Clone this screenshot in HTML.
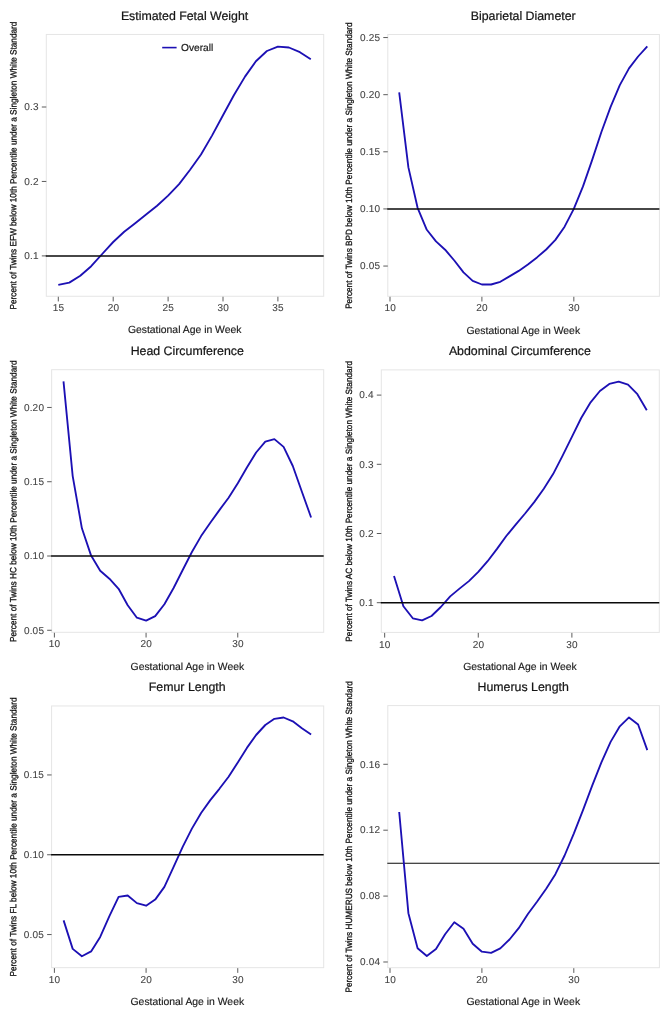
<!DOCTYPE html>
<html><head><meta charset="utf-8"><title>Twin growth percentiles</title>
<style>html,body{margin:0;padding:0;background:#fff}svg{display:block;will-change:transform}text{font-family:'Liberation Sans', sans-serif;text-rendering:geometricPrecision}.t{font-size:12.35px;fill:#151515;stroke:#151515;stroke-width:.22}.a{font-size:10px;letter-spacing:.2px;fill:#444;stroke:#444;stroke-width:.1}.x{font-size:10.4px;fill:#1a1a1a;stroke:#1a1a1a;stroke-width:.15}.y{font-size:9px;fill:#111;stroke:#111;stroke-width:.3}.l{font-size:10.2px;fill:#1a1a1a;stroke:#1a1a1a;stroke-width:.2}.f{fill:none;stroke:#e5e5e5;stroke-width:1}.k{stroke:#5c5c5c;stroke-width:1}.c{fill:none;stroke:#1c10b4;stroke-width:1.85;stroke-linejoin:round;stroke-linecap:butt}.h{stroke:#0a0a0a;stroke-width:1.5}</style></head><body>
<svg width="669" height="1018" viewBox="0 0 669 1018">
<rect width="669" height="1018" fill="#fff"/>
<g>
<rect class="f" x="46.30" y="34.45" width="277.40" height="261.80"/>
<line class="k" x1="58.30" y1="296.75" x2="58.30" y2="301.45"/>
<text class="a" x="58.50" y="311.35" text-anchor="middle">15</text>
<line class="k" x1="113.20" y1="296.75" x2="113.20" y2="301.45"/>
<text class="a" x="113.40" y="311.35" text-anchor="middle">20</text>
<line class="k" x1="168.10" y1="296.75" x2="168.10" y2="301.45"/>
<text class="a" x="168.30" y="311.35" text-anchor="middle">25</text>
<line class="k" x1="223.00" y1="296.75" x2="223.00" y2="301.45"/>
<text class="a" x="223.20" y="311.35" text-anchor="middle">30</text>
<line class="k" x1="277.90" y1="296.75" x2="277.90" y2="301.45"/>
<text class="a" x="278.10" y="311.35" text-anchor="middle">35</text>
<line class="k" x1="41.80" y1="255.90" x2="46.30" y2="255.90"/>
<text class="a" x="38.80" y="259.20" text-anchor="end">0.1</text>
<line class="k" x1="41.80" y1="181.45" x2="46.30" y2="181.45"/>
<text class="a" x="38.80" y="184.75" text-anchor="end">0.2</text>
<line class="k" x1="41.80" y1="107.00" x2="46.30" y2="107.00"/>
<text class="a" x="38.80" y="110.30" text-anchor="end">0.3</text>
<polyline class="c" points="58.3,284.9 69.3,282.6 80.3,275.7 91.2,266.2 102.2,254.0 113.2,242.0 124.2,231.8 135.2,223.2 146.1,214.6 157.1,205.7 168.1,195.6 179.1,184.1 190.1,169.8 201.0,154.5 212.0,135.6 223.0,115.2 234.0,95.0 245.0,76.6 255.9,61.2 266.9,51.0 277.9,46.6 288.9,47.5 299.9,52.2 310.8,59.3"/>
<line class="h" x1="45.80" y1="255.90" x2="323.70" y2="255.90"/>
<line x1="162.2" y1="47.6" x2="176.6" y2="47.6" stroke="#1c10b4" stroke-width="1.6"/>
<text class="l" x="181.0" y="51.1">Overall</text>
<text class="t" x="184.60" y="19.70" text-anchor="middle">Estimated Fetal Weight</text>
<text class="x" x="184.70" y="333.45" text-anchor="middle">Gestational Age in Week</text>
<text class="y" transform="translate(16.40 165.55) rotate(-89.95) scale(.914 1)" text-anchor="middle">Percent of Twins EFW below 10th Percentile under a Singleton White Standard</text>
</g>
<g>
<rect class="f" x="387.80" y="34.50" width="271.60" height="261.80"/>
<line class="k" x1="390.00" y1="296.80" x2="390.00" y2="301.50"/>
<text class="a" x="390.20" y="311.40" text-anchor="middle">10</text>
<line class="k" x1="481.90" y1="296.80" x2="481.90" y2="301.50"/>
<text class="a" x="482.10" y="311.40" text-anchor="middle">20</text>
<line class="k" x1="573.83" y1="296.80" x2="573.83" y2="301.50"/>
<text class="a" x="574.03" y="311.40" text-anchor="middle">30</text>
<line class="k" x1="383.30" y1="266.06" x2="387.80" y2="266.06"/>
<text class="a" x="380.30" y="269.36" text-anchor="end">0.05</text>
<line class="k" x1="383.30" y1="208.93" x2="387.80" y2="208.93"/>
<text class="a" x="380.30" y="212.23" text-anchor="end">0.10</text>
<line class="k" x1="383.30" y1="151.81" x2="387.80" y2="151.81"/>
<text class="a" x="380.30" y="155.11" text-anchor="end">0.15</text>
<line class="k" x1="383.30" y1="94.68" x2="387.80" y2="94.68"/>
<text class="a" x="380.30" y="97.98" text-anchor="end">0.20</text>
<line class="k" x1="383.30" y1="37.56" x2="387.80" y2="37.56"/>
<text class="a" x="380.30" y="40.86" text-anchor="end">0.25</text>
<polyline class="c" points="399.2,92.3 408.4,167.4 417.6,207.8 426.8,229.8 436.0,241.4 445.1,249.7 454.3,260.5 463.5,272.4 472.7,280.9 481.9,284.5 491.1,284.5 500.3,281.8 509.5,276.4 518.7,270.9 527.9,264.5 537.0,257.4 546.2,249.5 555.4,239.9 564.6,226.7 573.8,208.9 583.0,186.4 592.2,159.9 601.4,132.0 610.6,106.9 619.8,85.1 629.0,68.4 638.1,56.5 647.3,46.4"/>
<line class="h" x1="387.30" y1="208.93" x2="659.40" y2="208.93"/>
<text class="t" x="523.20" y="19.75" text-anchor="middle">Biparietal Diameter</text>
<text class="x" x="523.30" y="333.50" text-anchor="middle">Gestational Age in Week</text>
<text class="y" transform="translate(352.00 165.60) rotate(-89.95) scale(.914 1)" text-anchor="middle">Percent of Twins BPD below 10th Percentile under a Singleton White Standard</text>
</g>
<g>
<rect class="f" x="51.65" y="369.70" width="272.05" height="262.60"/>
<line class="k" x1="54.38" y1="632.80" x2="54.38" y2="637.50"/>
<text class="a" x="54.58" y="647.40" text-anchor="middle">10</text>
<line class="k" x1="146.07" y1="632.80" x2="146.07" y2="637.50"/>
<text class="a" x="146.27" y="647.40" text-anchor="middle">20</text>
<line class="k" x1="237.76" y1="632.80" x2="237.76" y2="637.50"/>
<text class="a" x="237.96" y="647.40" text-anchor="middle">30</text>
<line class="k" x1="47.15" y1="630.27" x2="51.65" y2="630.27"/>
<text class="a" x="44.15" y="633.57" text-anchor="end">0.05</text>
<line class="k" x1="47.15" y1="556.00" x2="51.65" y2="556.00"/>
<text class="a" x="44.15" y="559.30" text-anchor="end">0.10</text>
<line class="k" x1="47.15" y1="481.73" x2="51.65" y2="481.73"/>
<text class="a" x="44.15" y="485.03" text-anchor="end">0.15</text>
<line class="k" x1="47.15" y1="407.46" x2="51.65" y2="407.46"/>
<text class="a" x="44.15" y="410.76" text-anchor="end">0.20</text>
<polyline class="c" points="63.5,381.4 72.7,476.1 81.9,528.3 91.1,555.6 100.2,570.7 109.4,578.7 118.6,588.8 127.7,605.2 136.9,617.7 146.1,620.6 155.2,616.1 164.4,604.2 173.6,588.0 182.7,570.0 191.9,552.0 201.1,536.1 210.3,522.7 219.4,510.1 228.6,497.8 237.8,483.2 246.9,467.5 256.1,452.5 265.3,441.7 274.4,439.1 283.6,446.9 292.8,466.0 301.9,491.7 311.1,517.5"/>
<line class="h" x1="51.15" y1="556.00" x2="323.70" y2="556.00"/>
<text class="t" x="187.27" y="354.95" text-anchor="middle">Head Circumference</text>
<text class="x" x="187.37" y="669.50" text-anchor="middle">Gestational Age in Week</text>
<text class="y" transform="translate(16.40 501.20) rotate(-89.95) scale(.914 1)" text-anchor="middle">Percent of Twins HC below 10th Percentile under a Singleton White Standard</text>
</g>
<g>
<rect class="f" x="381.30" y="369.90" width="278.00" height="262.50"/>
<line class="k" x1="384.67" y1="632.90" x2="384.67" y2="637.60"/>
<text class="a" x="384.87" y="647.50" text-anchor="middle">10</text>
<line class="k" x1="478.28" y1="632.90" x2="478.28" y2="637.60"/>
<text class="a" x="478.48" y="647.50" text-anchor="middle">20</text>
<line class="k" x1="571.88" y1="632.90" x2="571.88" y2="637.60"/>
<text class="a" x="572.08" y="647.50" text-anchor="middle">30</text>
<line class="k" x1="376.80" y1="602.70" x2="381.30" y2="602.70"/>
<text class="a" x="373.80" y="606.00" text-anchor="end">0.1</text>
<line class="k" x1="376.80" y1="533.50" x2="381.30" y2="533.50"/>
<text class="a" x="373.80" y="536.80" text-anchor="end">0.2</text>
<line class="k" x1="376.80" y1="464.30" x2="381.30" y2="464.30"/>
<text class="a" x="373.80" y="467.60" text-anchor="end">0.3</text>
<line class="k" x1="376.80" y1="395.10" x2="381.30" y2="395.10"/>
<text class="a" x="373.80" y="398.40" text-anchor="end">0.4</text>
<polyline class="c" points="394.0,575.9 403.4,606.2 412.8,618.3 422.1,620.4 431.5,616.0 440.8,607.0 450.2,596.4 459.5,588.6 468.9,581.1 478.3,571.9 487.6,561.2 497.0,548.9 506.3,536.0 515.7,524.6 525.1,513.5 534.4,501.9 543.8,488.7 553.1,474.1 562.5,455.9 571.9,436.9 581.2,418.0 590.6,402.3 599.9,391.0 609.3,383.9 618.7,381.6 628.0,384.6 637.4,394.2 646.8,410.3"/>
<line class="h" x1="380.80" y1="602.70" x2="659.30" y2="602.70"/>
<text class="t" x="519.90" y="355.15" text-anchor="middle">Abdominal Circumference</text>
<text class="x" x="520.00" y="669.60" text-anchor="middle">Gestational Age in Week</text>
<text class="y" transform="translate(352.00 501.35) rotate(-89.95) scale(.914 1)" text-anchor="middle">Percent of Twins AC below 10th Percentile under a Singleton White Standard</text>
</g>
<g>
<rect class="f" x="51.60" y="705.95" width="272.10" height="261.70"/>
<line class="k" x1="54.40" y1="968.15" x2="54.40" y2="972.85"/>
<text class="a" x="54.60" y="982.75" text-anchor="middle">10</text>
<line class="k" x1="146.08" y1="968.15" x2="146.08" y2="972.85"/>
<text class="a" x="146.28" y="982.75" text-anchor="middle">20</text>
<line class="k" x1="237.76" y1="968.15" x2="237.76" y2="972.85"/>
<text class="a" x="237.96" y="982.75" text-anchor="middle">30</text>
<line class="k" x1="47.10" y1="934.55" x2="51.60" y2="934.55"/>
<text class="a" x="44.10" y="937.85" text-anchor="end">0.05</text>
<line class="k" x1="47.10" y1="854.75" x2="51.60" y2="854.75"/>
<text class="a" x="44.10" y="858.05" text-anchor="end">0.10</text>
<line class="k" x1="47.10" y1="774.95" x2="51.60" y2="774.95"/>
<text class="a" x="44.10" y="778.25" text-anchor="end">0.15</text>
<polyline class="c" points="63.6,920.4 72.7,948.9 81.9,956.3 91.1,951.4 100.2,936.9 109.4,916.1 118.6,896.8 127.7,895.5 136.9,903.1 146.1,905.7 155.2,899.6 164.4,886.9 173.6,866.8 182.8,846.6 191.9,828.6 201.1,813.0 210.3,800.1 219.4,788.8 228.6,776.7 237.8,762.4 246.9,747.9 256.1,735.0 265.3,725.0 274.4,718.8 283.6,717.5 292.8,721.3 301.9,728.2 311.1,734.4"/>
<line class="h" x1="51.10" y1="854.75" x2="323.70" y2="854.75"/>
<text class="t" x="187.25" y="691.20" text-anchor="middle">Femur Length</text>
<text class="x" x="187.35" y="1004.85" text-anchor="middle">Gestational Age in Week</text>
<text class="y" transform="translate(16.40 837.00) rotate(-89.95) scale(.914 1)" text-anchor="middle">Percent of Twins FL below 10th Percentile under a Singleton White Standard</text>
</g>
<g>
<rect class="f" x="387.80" y="705.60" width="271.60" height="262.10"/>
<line class="k" x1="390.00" y1="968.20" x2="390.00" y2="972.90"/>
<text class="a" x="390.20" y="982.80" text-anchor="middle">10</text>
<line class="k" x1="481.90" y1="968.20" x2="481.90" y2="972.90"/>
<text class="a" x="482.10" y="982.80" text-anchor="middle">20</text>
<line class="k" x1="573.80" y1="968.20" x2="573.80" y2="972.90"/>
<text class="a" x="574.00" y="982.80" text-anchor="middle">30</text>
<line class="k" x1="383.30" y1="961.99" x2="387.80" y2="961.99"/>
<text class="a" x="380.30" y="965.29" text-anchor="end">0.04</text>
<line class="k" x1="383.30" y1="896.09" x2="387.80" y2="896.09"/>
<text class="a" x="380.30" y="899.39" text-anchor="end">0.08</text>
<line class="k" x1="383.30" y1="830.19" x2="387.80" y2="830.19"/>
<text class="a" x="380.30" y="833.49" text-anchor="end">0.12</text>
<line class="k" x1="383.30" y1="764.29" x2="387.80" y2="764.29"/>
<text class="a" x="380.30" y="767.59" text-anchor="end">0.16</text>
<line class="h" x1="387.30" y1="863.30" x2="659.40" y2="863.30" style="stroke-width:1.1"/>
<polyline class="c" points="399.2,812.0 408.4,913.2 417.6,948.3 426.8,956.0 436.0,949.0 445.1,934.2 454.3,922.3 463.5,928.7 472.7,943.8 481.9,951.7 491.1,952.9 500.3,948.3 509.5,939.5 518.7,928.2 527.9,914.0 537.0,901.8 546.2,888.8 555.4,874.2 564.6,855.5 573.8,833.6 583.0,810.2 592.2,785.7 601.4,762.4 610.6,741.9 619.8,726.3 629.0,717.4 638.1,724.5 647.3,750.1"/>
<text class="t" x="523.20" y="690.85" text-anchor="middle">Humerus Length</text>
<text class="x" x="523.30" y="1004.90" text-anchor="middle">Gestational Age in Week</text>
<text class="y" transform="translate(352.00 836.85) rotate(-89.95) scale(.914 1)" text-anchor="middle">Percent of Twins HUMERUS below 10th Percentile under a Singleton White Standard</text>
</g>
</svg></body></html>
